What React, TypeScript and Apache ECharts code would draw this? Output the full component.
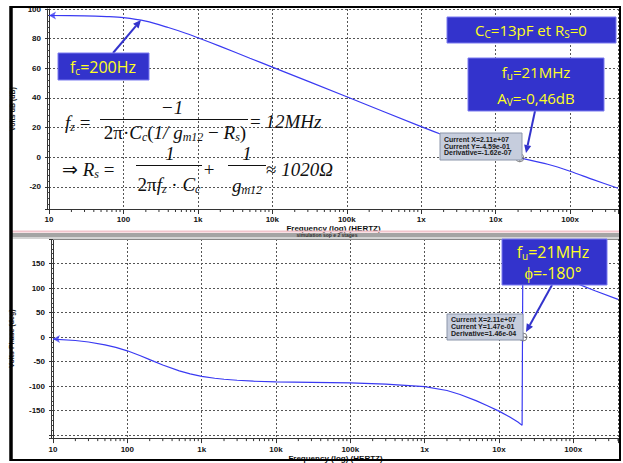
import React, { useEffect, useRef } from "react";
import * as echarts from "echarts";

// ---------- data ----------
const magFreq = [10, 30, 60, 100, 200, 400, 700, 1e3, 2e3, 5e3, 1e4, 1e5, 1e6, 2e6, 5e6, 1e7, 2.11e7, 5e7, 1e8, 2e8, 4.4e8];
const magDb = [95.6, 95.4, 94.9, 94.2, 91.8, 87.5, 83.5, 80.6, 74.8, 66.8, 60.8, 40.8, 20.6, 14.8, 7.6, 3.2, -0.46, -4.8, -9.5, -15, -21];

const phaseFreq = [10, 20, 30, 50, 70, 100, 150, 200, 300, 500, 700, 1e3, 1.5e3, 2e3, 3e3, 5e3, 1e4, 3e4, 1e5, 3e5, 1e6, 2e6, 3e6, 5e6, 7e6, 1e7, 1.4e7, 1.8e7, 2.05e7, 2.1e7, 3e7, 5e7, 1.17e8, 2e8, 4e8];
const phaseDeg = [-4, -7, -10, -16, -21, -28, -38, -46, -57, -69, -75, -80, -84, -86, -88, -90, -91.5, -92.5, -93.5, -96, -101, -109, -117, -130, -140, -151, -163, -173, -180, 179, 160, 138, 108, 94, 77];

const cursorFreq = [2.11e7];
const cursorMag = [-0.459];
const cursorPhase = [0.147];

const freqTicks = [10, 100, 1e3, 1e4, 1e5, 1e6, 1e7, 1e8];
const freqTickLabels = ["10", "100", "1k", "10k", "100k", "1x", "10x", "100x"];
const minorMultipliers = [2, 3, 4, 5, 6, 7, 8, 9];
const magTicks = [100, 80, 60, 40, 20, 0, -20];
const phaseTicks = [150, 100, 50, 0, -50, -100, -150];

const magMin = -35, magMax = 100;
const phaseMin = -206, phaseMax = 200;
const magFreqMax = 4.4e8, phaseFreqMax = 4.0e8;

// ---------- styling helpers ----------
const BLUE = "#3a3af2";
const BOX = "#3333cc";
const YEL = "#ffff22";
const LBL = "Liberation Sans";

const freqLabel = (v: number) => {
  for (let i = 0; i < freqTicks.length; i++) {
    if (Math.abs(Math.log10(v) - Math.log10(freqTicks[i])) < 1e-6) return freqTickLabels[i];
  }
  return "";
};
const tickLabel = (ticks: number[]) => (v: number) => {
  for (const t of ticks) if (Math.abs(v - t) < 1e-6) return String(t);
  return "";
};

const dotted = { show: true, lineStyle: { color: "#555", type: [2, 2] as any, width: 1 } };

const xAxisBase = (gridIndex: number, max: number, margin: number, nameGap: number) => ({
  type: "log",
  logBase: 10,
  gridIndex,
  min: 10,
  max,
  splitNumber: 10,
  axisLine: { show: true, onZero: false, lineStyle: { color: "#333", width: 1 } },
  axisTick: { show: true, length: 5, lineStyle: { color: "#333" } },
  minorTick: { show: false },
  axisLabel: {
    formatter: freqLabel,
    fontSize: 8,
    fontWeight: "bold",
    color: "#111",
    fontFamily: LBL,
    margin,
  },
  splitLine: dotted,
  name: "Frequency (log) (HERTZ)",
  nameLocation: "middle",
  nameGap,
  nameTextStyle: { fontSize: 8, fontWeight: "bold", color: "#111", fontFamily: LBL },
});

const yAxisBase = (gridIndex: number, min: number, max: number, splitNumber: number, ticks: number[], name: string, nameGap: number) => ({
  type: "value",
  gridIndex,
  min,
  max,
  splitNumber,
  axisLine: { show: true, onZero: false, lineStyle: { color: "#333" } },
  axisTick: { show: true, length: 4, lineStyle: { color: "#333" } },
  minorTick: { show: true, splitNumber: 5, length: 2, lineStyle: { color: "#444" } },
  axisLabel: { formatter: tickLabel(ticks), fontSize: 8, fontWeight: "bold", color: "#111", fontFamily: LBL, margin: 8 },
  splitLine: dotted,
  name,
  nameLocation: "middle",
  nameGap,
  nameTextStyle: { fontSize: 7, fontWeight: "bold", color: "#222", fontFamily: LBL },
});

const yAxisShadow = (gridIndex: number, min: number, max: number) => ({
  type: "value",
  gridIndex,
  min,
  max,
  position: "left",
  offset: 2,
  axisLine: { show: true, onZero: false, lineStyle: { color: "#333" } },
  axisTick: { show: false },
  axisLabel: { show: false },
  splitLine: { show: false },
});

const minorTickSeries = (axisIndex: number, yVal: number, fMax: number) => {
  const data: number[][] = [];
  for (const d of freqTicks) for (const m of minorMultipliers) if (d * m <= fMax) data.push([d * m, yVal]);
  return {
    type: "custom",
    xAxisIndex: axisIndex,
    yAxisIndex: axisIndex * 2,
    clip: false,
    silent: true,
    data,
    renderItem: (_p: any, api: any) => {
      const p = api.coord([api.value(0), api.value(1)]);
      return { type: "line", shape: { x1: p[0], y1: p[1], x2: p[0], y2: p[1] + 3 }, style: { stroke: "#333", lineWidth: 1 } };
    },
  };
};

function arrow(x1: number, y1: number, x2: number, y2: number, color = BOX, w = 2, head = 8) {
  const a = Math.atan2(y2 - y1, x2 - x1);
  const bx = x2 - head * Math.cos(a), by = y2 - head * Math.sin(a);
  const px = -Math.sin(a) * head * 0.45, py = Math.cos(a) * head * 0.45;
  return [
    { type: "line", z: 100, shape: { x1, y1, x2: bx, y2: by }, style: { stroke: color, lineWidth: w } },
    { type: "polygon", z: 100, shape: { points: [[x2, y2], [bx + px, by + py], [bx - px, by - py]] }, style: { fill: color } },
  ];
}

const yelRich = (fs: number, lh: number) => ({
  n: { fontFamily: "Open Sans", fontSize: fs, fill: YEL, color: YEL, lineHeight: lh },
  s: { fontFamily: "Open Sans", fontSize: Math.round(fs * 0.65), fill: YEL, color: YEL, lineHeight: lh, height: lh - 8, verticalAlign: "bottom" },
});

function yelText(x: number, y: number, text: string, fs = 15, lh = 18) {
  return {
    type: "text",
    z: 102,
    style: { x, y, text, align: "center", verticalAlign: "middle", textAlign: "center", textVerticalAlign: "middle", rich: yelRich(fs, lh), fill: YEL, fontSize: fs },
  };
}

function blueRect(x: number, y: number, width: number, height: number) {
  return { type: "rect", z: 101, shape: { x, y, width, height }, style: { fill: BOX, stroke: "#7a7af0", lineWidth: 1 } };
}

function cursorBox(x: number, y: number, w: number, h: number, lines: string[], lh: number, pad: number) {
  return [
    { type: "rect", z: 100, shape: { x, y, width: w, height: h }, style: { fill: "#c6cddd", stroke: "#8c96aa", lineWidth: 1 } },
    {
      type: "text",
      z: 101,
      style: { x: x + 4, y: y + pad, text: lines.join("\n"), font: `bold 7px "${LBL}"`, fill: "#1a1a1a", lineHeight: lh, align: "left", verticalAlign: "top", textAlign: "left", textVerticalAlign: "top" },
    },
  ];
}

const mathRich = {
  n: { fontFamily: "Liberation Serif", fontSize: 19, fill: "#111", color: "#111", lineHeight: 22 },
  i: { fontFamily: "Liberation Serif", fontStyle: "italic", fontSize: 19, fill: "#111", color: "#111", lineHeight: 22 },
  s: { fontFamily: "Liberation Serif", fontStyle: "italic", fontSize: 12, fill: "#111", color: "#111", lineHeight: 22, height: 12, verticalAlign: "bottom" },
};
function mtext(x: number, y: number, text: string, align = "left") {
  return {
    type: "text",
    z: 100,
    style: { x, y, text, rich: mathRich, align, verticalAlign: "middle", textAlign: align, textVerticalAlign: "middle", fill: "#111", fontSize: 19 },
  };
}
function hline(x1: number, x2: number, y: number, color = "#111", w = 1) {
  return { type: "line", z: 100, shape: { x1, y1: y, x2, y2: y }, style: { stroke: color, lineWidth: w } };
}

const graphics: any[] = [
  // separator band
  { type: "rect", z: 90, shape: { x: 11, y: 230.5, width: 609, height: 2 }, style: { fill: "#f2c4cc" } },
  { type: "rect", z: 90, shape: { x: 11, y: 233, width: 609, height: 4 }, style: { fill: "#a4a4a4" } },
  { type: "rect", z: 90, shape: { x: 11, y: 237, width: 609, height: 2 }, style: { fill: "#d4d4d4" } },
  { type: "text", z: 91, style: { x: 327, y: 235, text: "simulation sop e 2 stages", font: `bold 5px "${LBL}"`, fill: "#333", align: "center", verticalAlign: "middle", textAlign: "center", textVerticalAlign: "middle" } },
  hline(53, 618, 239.5, "#888", 1),
  // formula 1
  mtext(65, 122, "{i|f}{s|z}{n| =}"),
  mtext(172, 107, "{i|−1}", "center"),
  hline(100, 248, 119.5),
  mtext(175, 132, "{n|2π·}{i|C}{s|c}{n|(}{i|1/ g}{s|m12}{n| − }{i|R}{s|s}{n|)}", "center"),
  mtext(250, 121, "{n|= }{i|12MHz}"),
  // formula 2
  mtext(62, 169, "{n|⇒ }{i|R}{s|s}{n| =}"),
  mtext(170, 153, "{i|1}", "center"),
  hline(136, 202, 165.5),
  mtext(169, 184, "{n|2π}{i|f}{s|z}{n| · }{i|C}{s|c}", "center"),
  mtext(209, 169, "{n|+}", "center"),
  mtext(247, 153, "{i|1}", "center"),
  hline(228, 266, 165.5),
  mtext(247, 185, "{i|g}{s|m12}", "center"),
  mtext(266, 169, "{n|≈ }{i|1020Ω}"),
  // cursor boxes
  ...cursorBox(440, 133, 82, 27, ["Current X=2.11e+07", "Current Y=-4.59e-01", "Derivative=-1.62e-07"], 6.5, 3.5),
  ...cursorBox(447, 314, 76, 26, ["Current X=2.11e+07", "Current Y=1.47e-01", "Derivative=1.46e-04"], 6.8, 2),
  // annotation boxes
  blueRect(58, 53, 91, 27),
  yelText(103, 67, "{n|f}{s|c}{n|=200Hz}", 16, 20),
  ...arrow(113, 53, 141, 20),
  blueRect(447, 17, 169, 26),
  yelText(531, 30, "{n|C}{s|C}{n|=13pF et R}{s|S}{n|=0}", 15, 20),
  blueRect(468, 58, 136, 53),
  yelText(536, 72, "{n|f}{s|u}{n|=21MHz}", 15, 20),
  yelText(536, 98, "{n|A}{s|V}{n|=-0,46dB}", 15, 20),
  ...arrow(535, 111, 526, 153),
  blueRect(502, 239, 105, 46),
  yelText(553, 252, "{n|f}{s|u}{n|=21MHz}", 16, 17),
  yelText(553, 273, "{n|ϕ=-180°}", 16, 17),
  ...arrow(552, 285, 526, 332),
  // outer frame
  { type: "rect", z: 110, shape: { x: 11, y: 7, width: 609, height: 453 }, style: { fill: "none", stroke: "#000", lineWidth: 2 } },
  { type: "line", z: 110, shape: { x1: 11, y1: 6, x2: 11, y2: 461 }, style: { stroke: "#000", lineWidth: 3.5 } },
];

const cursorSymbol = "path://M0,-5A5,5,0,1,1,0,5A5,5,0,1,1,0,-5ZM0,-5L0,5M-5,0L5,0";

const option: any = {
  animation: false,
  backgroundColor: "#fff",
  grid: [
    { left: 49, top: 9, width: 569, height: 200 },
    { left: 53, top: 239, width: 565, height: 203 },
  ],
  xAxis: [xAxisBase(0, magFreqMax, 6, 15), xAxisBase(1, phaseFreqMax, 7, 15)],
  yAxis: [
    yAxisBase(0, magMin, magMax, 7, magTicks, "Volts dB (dB)", 33),
    yAxisShadow(0, magMin, magMax),
    yAxisBase(1, phaseMin, phaseMax, 8, phaseTicks, "Volts Phase (deg)", 38),
    yAxisShadow(1, phaseMin, phaseMax),
  ],
  graphic: graphics,
  series: [
    {
      type: "line",
      xAxisIndex: 0,
      yAxisIndex: 0,
      data: magFreq.map((f, i) => [f, magDb[i]]),
      smooth: 0.3,
      symbol: "none",
      lineStyle: { color: BLUE, width: 1.2 },
    },
    {
      type: "line",
      xAxisIndex: 1,
      yAxisIndex: 2,
      data: phaseFreq.map((f, i) => [f, phaseDeg[i]]),
      smooth: false,
      symbol: "none",
      lineStyle: { color: BLUE, width: 1.2 },
    },
    {
      type: "scatter",
      xAxisIndex: 0,
      yAxisIndex: 0,
      data: [[magFreq[0], magDb[0]]],
      symbol: "arrow",
      symbolRotate: 90,
      symbolSize: [6, 7],
      itemStyle: { color: BLUE },
      z: 5,
    },
    {
      type: "scatter",
      xAxisIndex: 1,
      yAxisIndex: 2,
      data: [[phaseFreq[0], phaseDeg[0]]],
      symbol: "arrow",
      symbolRotate: 90,
      symbolSize: [6, 7],
      itemStyle: { color: BLUE },
      z: 5,
    },
    {
      type: "scatter",
      xAxisIndex: 0,
      yAxisIndex: 0,
      data: cursorFreq.map((f, i) => [f, cursorMag[i]]),
      symbol: cursorSymbol,
      symbolSize: 8,
      itemStyle: { color: "rgba(255,255,255,0)", borderColor: "#666", borderWidth: 1 },
      z: 6,
    },
    {
      type: "scatter",
      xAxisIndex: 1,
      yAxisIndex: 2,
      data: cursorFreq.map((f, i) => [f, cursorPhase[i]]),
      symbol: cursorSymbol,
      symbolSize: 8,
      itemStyle: { color: "rgba(255,255,255,0)", borderColor: "#666", borderWidth: 1 },
      z: 6,
    },
    minorTickSeries(0, magMin, magFreqMax),
    minorTickSeries(1, phaseMin, phaseFreqMax),
  ],
};

export default function App() {
  const ref = useRef<HTMLDivElement>(null);
  useEffect(() => {
    const chart = echarts.init(ref.current!, null, { renderer: "svg" });
    chart.setOption(option);
    return () => chart.dispose();
  }, []);
  return (
    <div
      ref={ref}
      style={{ position: "fixed", left: 0, top: 0, width: 623, height: 463, background: "#fff" }}
    />
  );
}
